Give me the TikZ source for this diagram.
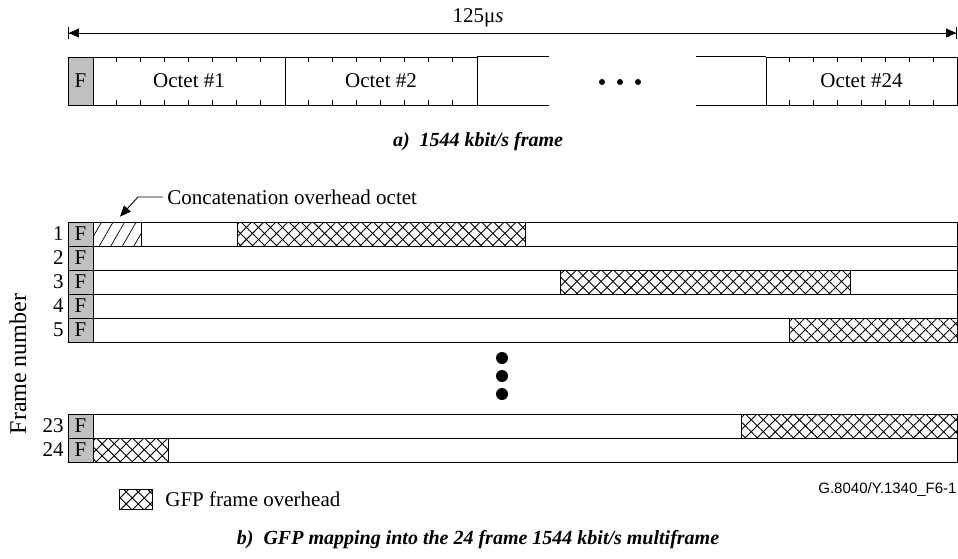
\documentclass[tikz,border=0pt]{standalone}
\usepackage{fontspec}
\setmainfont{Liberation Serif}
\setsansfont{Liberation Sans}
\usetikzlibrary{arrows.meta,patterns.meta,positioning}
\definecolor{fgray}{RGB}{192,192,192}

\begin{document}
\begin{tikzpicture}[x=1pt, y=-1pt, line width=0.9pt,
  every node/.style = {font=\fontsize{21}{25}\selectfont, inner sep=0pt},
  fcell/.style = {draw, fill=fgray, minimum width=25, minimum height=#1},
  octet/.style = {draw, minimum width=192, minimum height=48},
  rowbody/.style = {draw, minimum width=864, minimum height=24},
  gfp/.style = {draw, minimum height=24,
                pattern={Lines[angle=45, distance=8.5pt, line width=0.9pt]},
                postaction={pattern={Lines[angle=-45, distance=8.5pt, line width=0.9pt]}}},
  concat/.style = {draw, minimum height=24,
                   pattern={Lines[angle=60, distance=10pt, line width=0.7pt]}},
  caption/.style = {font=\fontsize{20}{24}\selectfont\bfseries\itshape},
  dot/.style = {circle, fill, inner sep=0pt, minimum size=#1},
  span/.style = {{Bar[width=12pt]Triangle[length=10pt, width=9pt]}-{Triangle[length=10pt, width=9pt]Bar[width=12pt]}},
]
\useasboundingbox (0,0) rectangle (958,558);

%% ── a) 1544 kbit/s frame ─────────────────────────────────────────────────────
\coordinate (spanL) at (68,33);
\coordinate (spanR) at (957,33);
\draw[span] (spanL) -- (spanR);
\node (spanlabel) at (478,18) {125μ\textit{s}};

\node[fcell=48] (fa) at (80.5,81) {F};
\node[octet] (oct1) at (189,81) {Octet \#1};
\node[octet] (oct2) at (381,81) {Octet \#2};
\node[octet, minimum width=191] (oct24) at (861.5,81) {Octet \#24};

\foreach \o in {oct1, oct2, oct24}
  \foreach \k in {1,...,7} {
    \draw ([xshift=24*\k]\o.north west) -- ++(0,5);
    \draw ([xshift=24*\k]\o.south west) -- ++(0,-5);
  }

\draw (oct2.north east) -- ++(72,0) (oct2.south east) -- ++(72,0);
\draw (oct24.north west) -- ++(-70,0) (oct24.south west) -- ++(-70,0);
\foreach \x [count=\i] in {602,620,638}
  \node[dot=6] (hd\i) at (\x,82) {};

\node[caption] (capa) at (478,142) {a)\ \ 1544 kbit/s frame};

%% ── b) GFP mapping into the multiframe ───────────────────────────────────────
\foreach \n/\y in {1/234, 2/258, 3/282, 4/306, 5/330, 23/426, 24/450} {
  \node[rowbody] (r\n) at (525,\y) {};
  \node[fcell=24] (f\n) at (80.5,\y) {F};
  \node[anchor=east] (num\n) at (64,\y) {\n};
}

\node[concat, minimum width=48] (cat1) at (117,234) {};
\node[gfp, minimum width=288] (gfp1) at (381,234) {};
\node[gfp, minimum width=290] (gfp3) at (705,282) {};
\node[gfp, minimum width=168] (gfp5) at (873,330) {};
\node[gfp, minimum width=216] (gfp23) at (849,426) {};
\node[gfp, minimum width=75] (gfp24) at (130.5,450) {};

\foreach \y [count=\i] in {358,376,394}
  \node[dot=12] (vd\i) at (502,\y) {};

\node[rotate=90, font=\fontsize{24}{28}\selectfont] (frameno) at (18,364) {Frame number};

\node[anchor=west] (cattext) at (167,197) {Concatenation overhead octet};
\draw[-{Triangle[length=11pt, width=9pt]}]
  ([xshift=-4]cattext.west) -- ++(-25,0) -- ([shift={(3,-5)}]cat1.north);

%% ── Legend and captions ──────────────────────────────────────────────────────
\node[font=\sffamily\fontsize{15}{17}\selectfont, anchor=east] (figid) at (957,490) {G.8040/Y.1340\_F6-1};
\node[gfp, minimum width=33, minimum height=20] (key) at (136,499) {};
\node[right=12pt of key] (keytext) {GFP frame overhead};
\node[caption] (capb) at (478,540) {b)\ \ GFP mapping into the 24 frame 1544 kbit/s multiframe};

\end{tikzpicture}
\end{document}
